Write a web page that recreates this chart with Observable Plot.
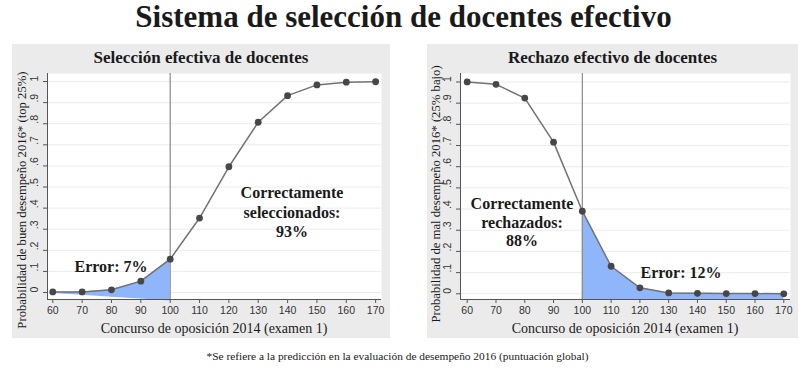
<!DOCTYPE html>
<html><head><meta charset="utf-8">
<script src="https://cdn.jsdelivr.net/npm/d3@7"></script>
<script src="https://cdn.jsdelivr.net/npm/@observablehq/plot@0.6"></script>
<style>
body{margin:0;background:#fff;}
#root{position:relative;width:807px;height:374px;overflow:hidden;font-family:"Liberation Serif","DejaVu Serif",serif;color:#1a1a1a;}
.abs{position:absolute;white-space:nowrap;}
.panel{position:absolute;background:#ebebeb;}
.panel svg{position:absolute;left:0;top:0;}
.ann{position:absolute;font-weight:bold;font-size:16px;text-align:center;white-space:nowrap;}
</style></head><body><div id="root"></div>
<script>
// ---- data ----
const concurso = [60, 70, 80, 90, 100, 110, 120, 130, 140, 150, 160, 170];
const xTicks = [60, 70, 80, 90, 100, 110, 120, 130, 140, 150, 160, 170];
const yTicks = [0, 0.1, 0.2, 0.3, 0.4, 0.5, 0.6, 0.7, 0.8, 0.9, 1];
const yTickLabels = ["0", ".1", ".2", ".3", ".4", ".5", ".6", ".7", ".8", ".9", "1"];
const seleccionProb = [0.003, 0.003, 0.013, 0.054, 0.158, 0.353, 0.596, 0.807, 0.933, 0.984, 0.997, 0.999];
const rechazoProb = [1.0, 0.989, 0.924, 0.716, 0.39, 0.13, 0.028, 0.004, 0.002, 0.001, 0.001, 0.0];
const corte = 100;
const seleccionFillX = [60, 70, 80, 90, 100];
const seleccionFillTop = [0.003, 0.003, 0.013, 0.054, 0.158];
const seleccionFillBase = [-0.004, -0.013, -0.022, -0.031, -0.04];
const rechazoFillX = [100, 110, 120, 130, 140, 150, 160, 170];
const rechazoFillTop = [0.39, 0.13, 0.028, 0.004, 0.002, 0.001, 0.001, 0.0];
const rechazoFillBase = [-0.027, -0.027, -0.027, -0.027, -0.027, -0.027, -0.027, -0.027];

const mainTitle = "Sistema de selección de docentes efectivo";
const footnote = "*Se refiere a la predicción en la evaluación de desempeño 2016 (puntuación global)";
const xLabel = "Concurso de oposición 2014 (examen 1)";

const root = document.getElementById("root");
function addDiv(cls, html, style) {
  const d = document.createElement("div");
  d.className = cls;
  d.innerHTML = html;
  Object.assign(d.style, style);
  root.appendChild(d);
  return d;
}

const fillColor = "#8fb5fa";
const sans = "'Liberation Sans', Arial, sans-serif";

function panelPlot(cfg) {
  const line = concurso.map((x, i) => ({x, y: cfg.prob[i]}));
  const fill = cfg.fillX.map((x, i) => ({x, top: cfg.fillTop[i], base: cfg.fillBase[i]}));
  return Plot.plot({
    width: cfg.width, height: cfg.height,
    marginLeft: cfg.ml, marginRight: cfg.mr, marginTop: 29, marginBottom: 39,
    style: {background: "transparent", overflow: "visible"},
    x: {domain: cfg.xDomain},
    y: {domain: cfg.yDomain},
    marks: [
      Plot.frame({fill: "white", stroke: null}),
      Plot.gridY(yTicks, {stroke: "#ececec", strokeOpacity: 1}),
      Plot.areaY(fill, {x: "x", y1: "base", y2: "top", fill: fillColor}),
      Plot.ruleX([corte], {stroke: "#8a8a8a", strokeWidth: 1.2}),
      Plot.ruleY([cfg.yDomain[0]], {stroke: "#555"}),
      Plot.ruleX([cfg.xDomain[0]], {stroke: "#555"}),
      Plot.axisX(xTicks, {tickSize: 4, tickPadding: 3, fontSize: 10.5, fontFamily: sans, label: null, stroke: "#555", fill: "#333"}),
      Plot.axisY(yTicks, {tickSize: 4, tickFormat: () => "", label: null, stroke: "#555"}),
      Plot.text(yTicks, {y: d => d, text: (d, i) => yTickLabels[i], frameAnchor: "left", rotate: -90, dx: -12.5, fontSize: 10.5, fontFamily: sans, fill: "#333"}),
      Plot.line(line, {x: "x", y: "y", stroke: "#727272", strokeWidth: 1.5}),
      Plot.dot(line, {x: "x", y: "y", r: 3.4, fill: "#474747", stroke: null})
    ]
  });
}

// main title
addDiv("abs", mainTitle, {left: "0px", width: "807px", textAlign: "center", top: "-2px", fontSize: "31px", fontWeight: "bold", lineHeight: "38px"});

// panels
const panels = [
  {left: 12, width: 378, ml: 35, mr: 9, xDomain: [58.2, 172.0], yDomain: [-0.033, 1.038],
   prob: seleccionProb, fillX: seleccionFillX, fillTop: seleccionFillTop, fillBase: seleccionFillBase,
   title: "Selección efectiva de docentes",
   ylabel: "Probabilidad de buen desempeño 2016* (top 25%)", ylabX: 21.5, ylabY: 200},
  {left: 427, width: 371, ml: 33, mr: 8, xDomain: [57.67, 172.33], yDomain: [-0.027, 1.040],
   prob: rechazoProb, fillX: rechazoFillX, fillTop: rechazoFillTop, fillBase: rechazoFillBase,
   title: "Rechazo efectivo de docentes",
   ylabel: "Probabilidad de mal desempeño 2016* (25% bajo)", ylabX: 436, ylabY: 194}
];

for (const p of panels) {
  const div = document.createElement("div");
  div.className = "panel";
  Object.assign(div.style, {left: p.left + "px", top: "44px", width: p.width + "px", height: "294px"});
  root.appendChild(div);
  div.appendChild(panelPlot({...p, height: 294}));
  // panel title
  addDiv("abs", p.title, {left: p.left + "px", width: p.width + "px", textAlign: "center", top: "48px", fontSize: "17px", fontWeight: "bold", lineHeight: "20px"});
  // x label
  const plotLeft = p.left + p.ml, plotRight = p.left + p.width - p.mr;
  addDiv("abs", xLabel, {left: plotLeft + "px", width: (plotRight - plotLeft) + "px", textAlign: "center", top: "320px", fontSize: "14px", lineHeight: "18px"});
  // y label (rotated)
  addDiv("abs", p.ylabel, {left: (p.ylabX - 150) + "px", top: (p.ylabY - 8) + "px", width: "300px", textAlign: "center", fontSize: "12.7px", lineHeight: "16px", transform: "rotate(-90deg)", transformOrigin: "150px 8px"});
}

// annotations
addDiv("ann", "Correctamente<br>seleccionados:<br>93%", {left: "212px", width: "160px", top: "183px", lineHeight: "19.5px"});
addDiv("ann", "Error: 7%", {left: "61px", width: "100px", top: "257px", lineHeight: "20px"});
addDiv("ann", "Correctamente<br>rechazados:<br>88%", {left: "442px", width: "160px", top: "195px", lineHeight: "18.5px"});
addDiv("ann", "Error: 12%", {left: "631px", width: "100px", top: "263px", lineHeight: "20px"});

// footnote
addDiv("abs", footnote, {left: "0px", width: "795px", textAlign: "center", top: "349px", fontSize: "11.4px", lineHeight: "14px"});
</script></body></html>
